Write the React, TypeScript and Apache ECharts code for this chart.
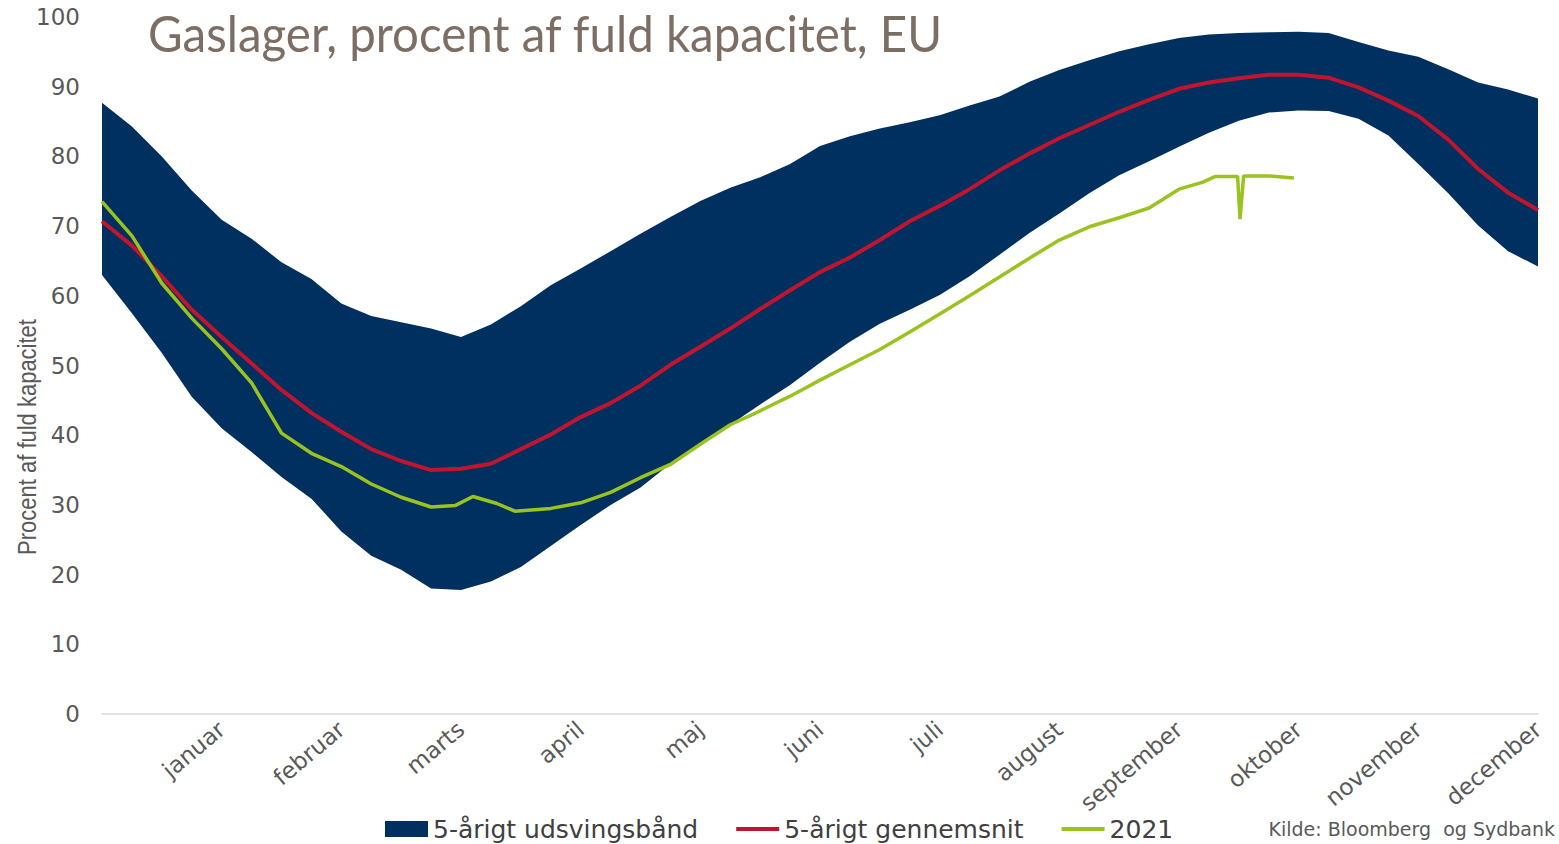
import React, { useEffect, useRef } from 'react';
import * as echarts from 'echarts';

const monthNames = ['januar', 'februar', 'marts', 'april', 'maj', 'juni', 'juli', 'august', 'september', 'oktober', 'november', 'december'];

// x positions in months (0 = start of year, 12 = end of year)
const bandX = [0, 0.25, 0.5, 0.75, 1, 1.25, 1.5, 1.75, 2, 2.25, 2.5, 2.75, 3, 3.25, 3.5, 3.75, 4, 4.25, 4.5, 4.75, 5, 5.25, 5.5, 5.75, 6, 6.25, 6.5, 6.75, 7, 7.25, 7.5, 7.75, 8, 8.25, 8.5, 8.75, 9, 9.25, 9.5, 9.75, 10, 10.25, 10.5, 10.75, 11, 11.25, 11.5, 11.75, 12];

const bandUpper = [87.7, 84.3, 80.0, 75.1, 70.9, 68.2, 64.8, 62.4, 58.9, 57.1, 56.2, 55.3, 54.1, 55.9, 58.5, 61.5, 63.9, 66.4, 68.9, 71.3, 73.6, 75.5, 77.0, 78.9, 81.5, 82.9, 84.0, 84.9, 85.9, 87.3, 88.6, 90.7, 92.4, 93.8, 95.1, 96.1, 97.0, 97.5, 97.7, 97.8, 97.9, 97.7, 96.4, 95.2, 94.3, 92.5, 90.6, 89.6, 88.3];

const bandLower = [63.0, 57.5, 51.8, 45.5, 41.0, 37.6, 34.0, 30.9, 26.2, 22.7, 20.7, 18.0, 17.8, 19.0, 21.1, 24.1, 27.1, 30.0, 32.5, 35.9, 38.8, 41.5, 44.4, 47.2, 50.4, 53.4, 56.0, 58.0, 60.1, 62.8, 65.9, 69.0, 71.8, 74.7, 77.3, 79.3, 81.4, 83.4, 85.1, 86.3, 86.6, 86.5, 85.4, 83.0, 78.9, 74.7, 70.1, 66.4, 64.2];

const avg5y = [70.7, 67.2, 62.8, 58.0, 54.1, 50.3, 46.5, 43.2, 40.5, 38.0, 36.3, 35.0, 35.2, 35.9, 38.0, 40.1, 42.6, 44.6, 47.1, 50.1, 52.7, 55.3, 58.1, 60.8, 63.4, 65.5, 68.0, 70.7, 72.9, 75.3, 78.0, 80.4, 82.6, 84.5, 86.4, 88.1, 89.7, 90.6, 91.2, 91.7, 91.7, 91.3, 89.9, 88.0, 85.8, 82.4, 78.2, 74.8, 72.3];

const greenX = [0, 0.25, 0.5, 0.75, 1, 1.25, 1.5, 1.75, 2, 2.25, 2.5, 2.75, 2.95, 3.1, 3.3, 3.45, 3.75, 4, 4.25, 4.5, 4.75, 5, 5.25, 5.5, 5.75, 6, 6.25, 6.5, 6.75, 7, 7.25, 7.5, 7.75, 8, 8.25, 8.5, 8.75, 9, 9.2, 9.3, 9.49, 9.51, 9.54, 9.75, 9.96];
const y2021 = [73.5, 68.6, 61.8, 56.8, 52.4, 47.5, 40.3, 37.4, 35.5, 33.0, 31.1, 29.7, 29.9, 31.2, 30.2, 29.1, 29.5, 30.3, 31.8, 33.9, 35.8, 38.7, 41.5, 43.5, 45.6, 47.9, 50.1, 52.3, 54.8, 57.4, 60.0, 62.7, 65.4, 68.0, 69.9, 71.2, 72.6, 75.3, 76.3, 77.1, 77.1, 71.0, 77.2, 77.2, 76.9];

const NAVY = '#00305F';
const RED = '#C0142F';
const GREEN = '#9BC320';
const GREY = '#595959';
const FONT = 'DejaVu Sans';
const LINE_ICON = 'path://M0 0 H43 V4 H0 Z';

export default function App() {
  const ref = useRef<HTMLDivElement>(null);
  useEffect(() => {
    const chart = echarts.init(ref.current as HTMLDivElement, null, { renderer: 'svg' });
    const option: any = {
      animation: false,
      backgroundColor: '#ffffff',
      grid: { left: 102, right: 21, top: 17, bottom: 130 },
      xAxis: {
        type: 'value',
        min: 0,
        max: 12,
        interval: 1,
        axisLine: { show: true, lineStyle: { color: '#d9d9d9', width: 1.5 } },
        axisTick: { show: false },
        splitLine: { show: false },
        axisLabel: {
          rotate: 40,
          margin: 12,
          color: GREY,
          fontFamily: FONT,
          fontSize: 23,
          formatter: (v: number) => (v >= 1 && v <= 12 ? monthNames[Math.round(v) - 1] : ''),
        },
      },
      yAxis: {
        type: 'value',
        min: 0,
        max: 100,
        interval: 10,
        axisLine: { show: false },
        axisTick: { show: false },
        splitLine: { show: false },
        axisLabel: { color: GREY, fontFamily: FONT, fontSize: 23, margin: 22 },
      },
      legend: {
        left: 385,
        top: 816,
        padding: 0,
        itemWidth: 43,
        itemHeight: 16,
        itemGap: 38,
        symbolKeepAspect: true,
        textStyle: { fontFamily: FONT, fontSize: 25, color: '#404040', lineHeight: 26 },
        data: [
          { name: '5-årigt udsvingsbånd', icon: 'rect' },
          { name: '5-årigt gennemsnit', icon: LINE_ICON },
          { name: '2021', icon: LINE_ICON },
        ],
      },
      graphic: [
        {
          type: 'text',
          x: 148,
          y: 8,
          scaleX: 0.95,
          style: {
            text: 'Gaslager, procent af fuld kapacitet, EU',
            fontFamily: 'Lato',
            fontSize: 50,
            fill: '#7d6e64',
            verticalAlign: 'top',
            align: 'left',
          },
        },
        {
          type: 'text',
          x: 27,
          y: 437,
          rotation: Math.PI / 2,
          scaleY: 1.2,
          style: {
            text: 'Procent af fuld kapacitet',
            fontFamily: 'Liberation Sans',
            fontSize: 22,
            fill: GREY,
            align: 'center',
            verticalAlign: 'middle',
          },
        },
        {
          type: 'text',
          x: 1555,
          y: 829,
          style: {
            text: 'Kilde: Bloomberg  og Sydbank',
            fontFamily: FONT,
            fontSize: 19,
            fill: GREY,
            align: 'right',
            verticalAlign: 'middle',
          },
        },
      ],
      series: [
        {
          name: '5-årigt udsvingsbånd',
          type: 'custom',
          itemStyle: { color: NAVY },
          encode: { x: 0, y: [1, 2] },
          data: bandX.map((x, i) => [x, bandLower[i], bandUpper[i]]),
          renderItem: (params: any, api: any) => {
            if (params.dataIndex !== 0) return null;
            const pts: number[][] = [];
            for (let i = 0; i < bandX.length; i++) pts.push(api.coord([bandX[i], bandUpper[i]]));
            for (let i = bandX.length - 1; i >= 0; i--) pts.push(api.coord([bandX[i], bandLower[i]]));
            return { type: 'polygon', shape: { points: pts }, style: { fill: NAVY } };
          },
          z: 2,
        },
        {
          name: '5-årigt gennemsnit',
          type: 'line',
          symbol: 'none',
          color: RED,
          itemStyle: { color: RED },
          lineStyle: { width: 4, color: RED },
          data: bandX.map((x, i) => [x, avg5y[i]]),
          z: 3,
        },
        {
          name: '2021',
          type: 'line',
          symbol: 'none',
          color: GREEN,
          itemStyle: { color: GREEN },
          lineStyle: { width: 3.5, color: GREEN },
          data: greenX.map((x, i) => [x, y2021[i]]),
          z: 4,
        },
      ],
    };
    chart.setOption(option);
    return () => chart.dispose();
  }, []);
  return <div ref={ref} style={{ position: 'fixed', left: 0, top: 0, width: 1559, height: 844 }} />;
}
